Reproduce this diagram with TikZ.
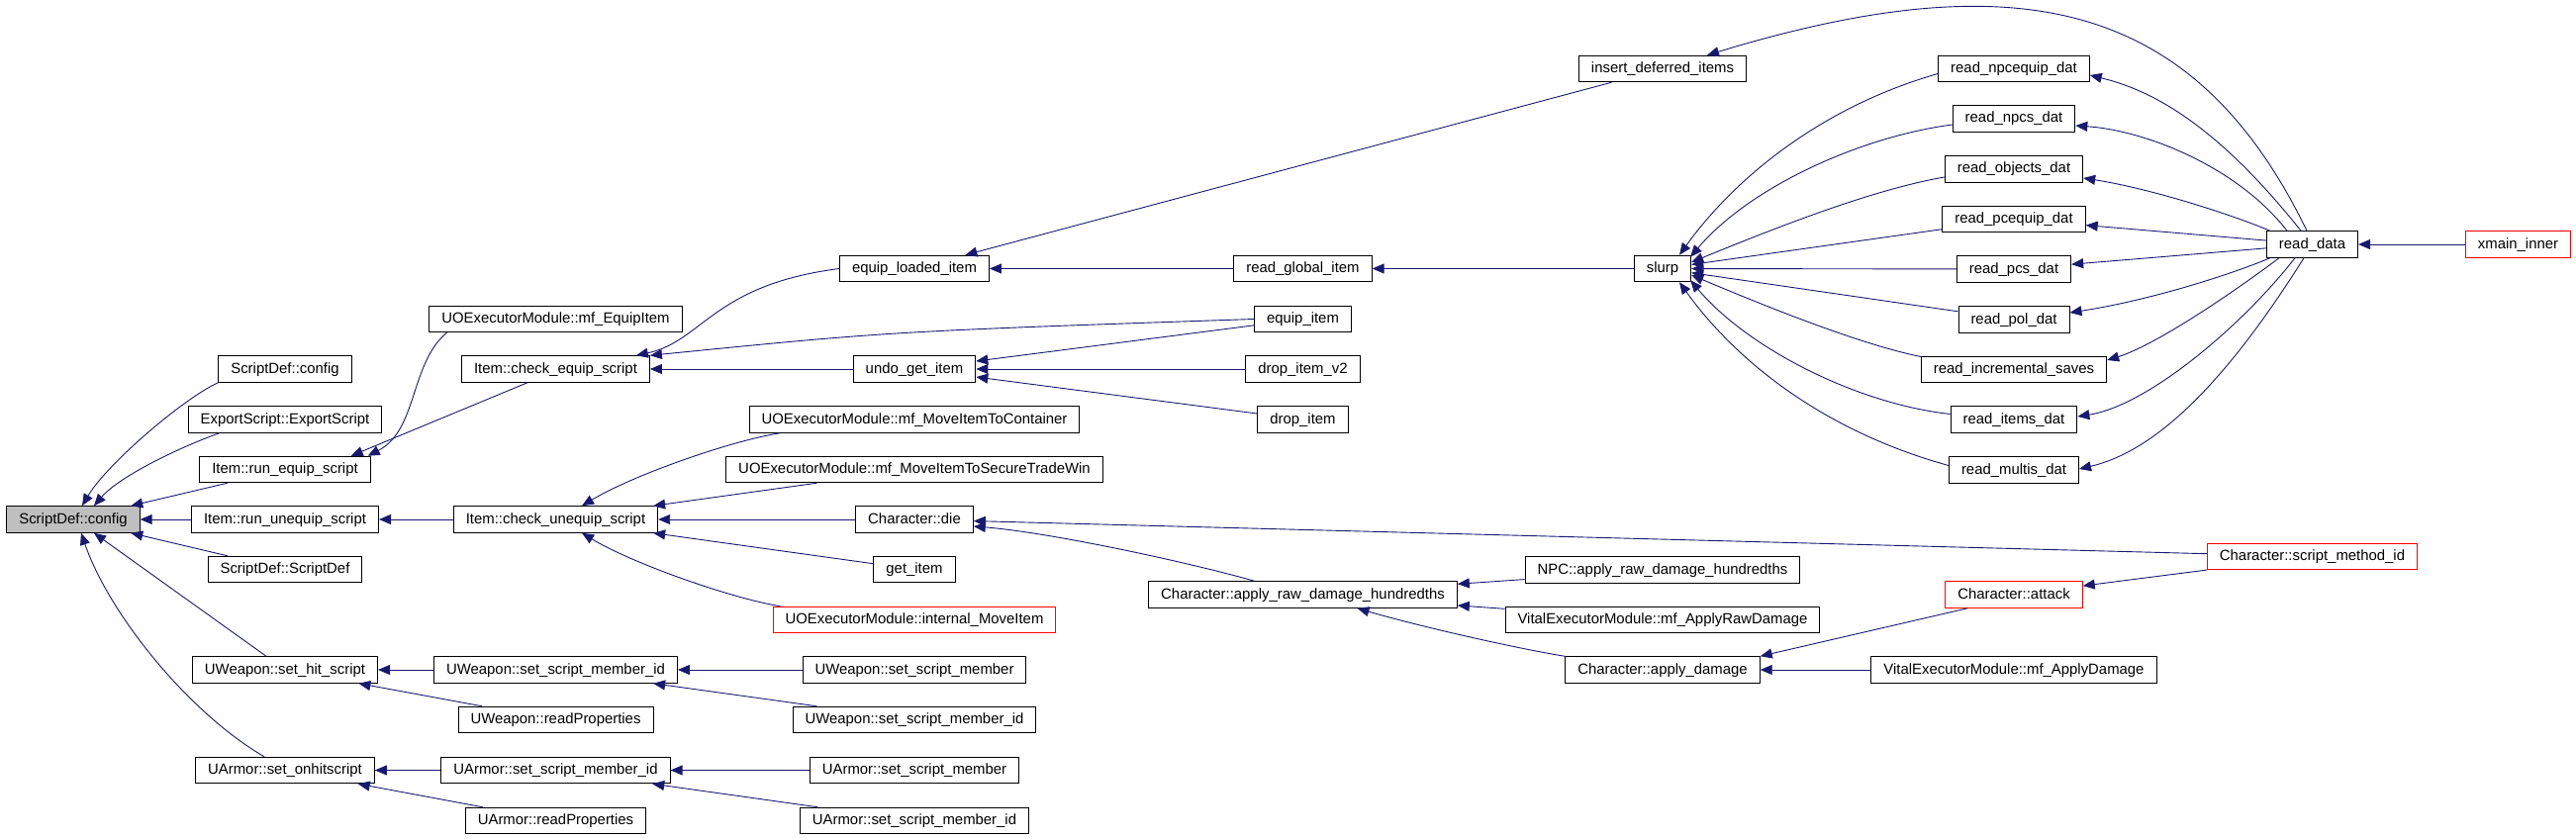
\documentclass[tikz,border=0pt]{standalone}
\usepackage{fontspec}
\setmainfont{Liberation Sans}
\usetikzlibrary{arrows.meta}
\definecolor{midnight}{HTML}{191970}
\definecolor{rootgray}{HTML}{BFBFBF}
\tikzset{
	fn/.style={draw, line width=1pt, font=\fontsize{14.9}{17}\selectfont, inner xsep=12.5pt, inner ysep=0pt, minimum height=26.5pt, text height=11pt, text depth=3pt},
	fnred/.style={fn, draw=red},
	fnroot/.style={fn, fill=rootgray},
	calls/.style={draw=midnight, line width=0.9pt, -{Triangle[length=12pt,width=10pt]}}
}
\begin{document}
\begin{tikzpicture}[x=1pt,y=1pt]
	\useasboundingbox (0,0) rectangle (2603,-848);
	\node[fnroot] (root) at (74,-525) {ScriptDef::config};
	\node[fn] (sdcfg) at (288,-373) {ScriptDef::config};
	\node[fn] (expscr) at (288,-424) {ExportScript::ExportScript};
	\node[fn] (runeq) at (288,-474.5) {Item::run\_equip\_script};
	\node[fn] (rununeq) at (288,-525) {Item::run\_unequip\_script};
	\node[fn] (sdctor) at (288,-575.5) {ScriptDef::ScriptDef};
	\node[fn] (wsethit) at (288,-677) {UWeapon::set\_hit\_script};
	\node[fn] (asethit) at (288,-778.5) {UArmor::set\_onhitscript};
	\node[fn] (mfequip) at (561.5,-322.5) {UOExecutorModule::mf\_EquipItem};
	\node[fn] (chkeq) at (561.5,-373) {Item::check\_equip\_script};
	\node[fn] (chkuneq) at (561.5,-525) {Item::check\_unequip\_script};
	\node[fn] (wsmid) at (561.5,-677) {UWeapon::set\_script\_member\_id};
	\node[fn] (wreadp) at (561.5,-727.5) {UWeapon::readProperties};
	\node[fn] (asmid) at (561.5,-778.5) {UArmor::set\_script\_member\_id};
	\node[fn] (areadp) at (561.5,-829.5) {UArmor::readProperties};
	\node[fn] (eqload) at (924,-271.5) {equip\_loaded\_item};
	\node[fn] (undoget) at (924,-373) {undo\_get\_item};
	\node[fn] (mvcont) at (924,-424) {UOExecutorModule::mf\_MoveItemToContainer};
	\node[fn] (mvtrade) at (924,-474.5) {UOExecutorModule::mf\_MoveItemToSecureTradeWin};
	\node[fn] (chdie) at (924,-525) {Character::die};
	\node[fn] (getitem) at (924,-575.5) {get\_item};
	\node[fnred] (intmove) at (924,-626.5) {UOExecutorModule::internal\_MoveItem};
	\node[fn] (wsm) at (924,-677) {UWeapon::set\_script\_member};
	\node[fn] (wsmid2) at (924,-727.5) {UWeapon::set\_script\_member\_id};
	\node[fn] (asm) at (924,-778.5) {UArmor::set\_script\_member};
	\node[fn] (asmid2) at (924,-829.5) {UArmor::set\_script\_member\_id};
	\node[fn] (rglob) at (1316.5,-271.5) {read\_global\_item};
	\node[fn] (eqitem) at (1316.5,-322.5) {equip\_item};
	\node[fn] (dropv2) at (1316.5,-373) {drop\_item\_v2};
	\node[fn] (drop) at (1316.5,-424) {drop\_item};
	\node[fn] (rawdmg) at (1316.5,-601) {Character::apply\_raw\_damage\_hundredths};
	\node[fn] (insdef) at (1680,-69.5) {insert\_deferred\_items};
	\node[fn] (slurp) at (1680,-271.5) {slurp};
	\node[fn] (npcraw) at (1680,-576) {NPC::apply\_raw\_damage\_hundredths};
	\node[fn] (vemraw) at (1680,-626.5) {VitalExecutorModule::mf\_ApplyRawDamage};
	\node[fn] (apdmg) at (1680,-677) {Character::apply\_damage};
	\node[fn] (rnpceq) at (2035,-69.5) {read\_npcequip\_dat};
	\node[fn] (rnpcs) at (2035,-120) {read\_npcs\_dat};
	\node[fn] (robj) at (2035,-171) {read\_objects\_dat};
	\node[fn] (rpceq) at (2035,-221.5) {read\_pcequip\_dat};
	\node[fn] (rpcs) at (2035,-272) {read\_pcs\_dat};
	\node[fn] (rpol) at (2035,-323) {read\_pol\_dat};
	\node[fn] (rinc) at (2035,-373.5) {read\_incremental\_saves};
	\node[fn] (ritems) at (2035,-424) {read\_items\_dat};
	\node[fn] (rmultis) at (2035,-475) {read\_multis\_dat};
	\node[fnred] (attack) at (2035,-601) {Character::attack};
	\node[fn] (vemdmg) at (2035,-677) {VitalExecutorModule::mf\_ApplyDamage};
	\node[fn] (rdata) at (2336.5,-247) {read\_data};
	\node[fnred] (smid) at (2336.5,-562.5) {Character::script\_method\_id};
	\node[fnred] (xmain) at (2544.5,-247) {xmain\_inner};

	\draw[calls] (sdcfg.south west) .. controls (185,-403) and (108,-469) .. ([xshift=9pt]root.north);
	\draw[calls] ([xshift=32pt]expscr.south west) .. controls (184,-451) and (121,-481) .. ([xshift=21pt]root.north);
	\draw[calls] (runeq) -- (root);
	\draw[calls] (rununeq) -- (root);
	\draw[calls] (sdctor) -- (root);
	\draw[calls] ([xshift=-19pt]wsethit.north) -- ([xshift=21pt]root.south);
	\draw[calls] ([xshift=-21pt]asethit.north) .. controls (190,-720) and (110,-620) .. ([xshift=8pt]root.south);

	\draw[calls] ([xshift=18pt]mfequip.south west) .. controls (414,-368) and (422,-435) .. ([xshift=-3pt]runeq.north east);
	\draw[calls] ([xshift=-28.5pt]chkeq.south) -- ([xshift=-20pt]runeq.north east);
	\draw[calls] (chkuneq) -- (rununeq);
	\draw[calls] (wsmid) -- (wsethit);
	\draw[calls] (wreadp) -- (wsethit);
	\draw[calls] (asmid) -- (asethit);
	\draw[calls] (areadp) -- (asethit);

	\draw[calls] (eqload.west) .. controls (720,-288) and (710,-345) .. ([xshift=-14pt]chkeq.north east);
	\draw[calls] (eqitem.west) .. controls (900,-335) .. (chkeq.north east);
	\draw[calls] (undoget) -- (chkeq);
	\draw[calls] ([xshift=-135.5pt]mvcont.south) .. controls (740,-445) and (640,-480) .. ([xshift=26.5pt]chkuneq.north);
	\draw[calls] (mvtrade) -- (chkuneq);
	\draw[calls] (chdie) -- (chkuneq);
	\draw[calls] (getitem) -- (chkuneq);
	\draw[calls] ([xshift=-135.5pt]intmove.north) .. controls (740,-605) and (640,-570) .. ([xshift=26.5pt]chkuneq.south);
	\draw[calls] (wsm) -- (wsmid);
	\draw[calls] (wsmid2) -- (wsmid);
	\draw[calls] (asm) -- (asmid);
	\draw[calls] (asmid2) -- (asmid);

	\draw[calls] (insdef) -- (eqload);
	\draw[calls] (rglob) -- (eqload);
	\draw[calls] (eqitem) -- (undoget);
	\draw[calls] (dropv2) -- (undoget);
	\draw[calls] (drop) -- (undoget);
	\draw[calls] (smid) -- (chdie);
	\draw[calls] ([xshift=-49pt]rawdmg.north) .. controls (1200,-568) and (1060,-538) .. ([yshift=-7pt]chdie.east);

	\draw[calls] (slurp) -- (rglob);
	\draw[calls] (npcraw) -- (rawdmg);
	\draw[calls] (vemraw) -- (rawdmg);
	\draw[calls] (apdmg.north west) .. controls (1530,-655) and (1430,-632) .. ([xshift=55pt]rawdmg.south);

	\draw[calls] ([yshift=-5pt]rnpceq.west) .. controls (1844,-107) and (1755,-177) .. ([xshift=17pt]slurp.north);
	\draw[calls] ([yshift=-6pt]rnpcs.west) .. controls (1875,-139) and (1765,-192) .. ([xshift=-1pt,yshift=-2pt]slurp.north east);
	\draw[calls] ([yshift=-8pt]robj.west) .. controls (1890,-192) and (1790,-232) .. ([yshift=6.5pt]slurp.east);
	\draw[calls] (rpceq) -- (slurp);
	\draw[calls] (rpcs) -- (slurp);
	\draw[calls] (rpol) -- (slurp);
	\draw[calls] ([yshift=13pt]rinc.west) .. controls (1880,-348) and (1790,-312) .. ([yshift=-6.5pt]slurp.east);
	\draw[calls] ([yshift=5.5pt]ritems.west) .. controls (1875,-408) and (1765,-351) .. ([xshift=-1pt,yshift=2pt]slurp.south east);
	\draw[calls] ([yshift=4.5pt]rmultis.west) .. controls (1844,-436) and (1755,-366) .. ([xshift=17pt]slurp.south);
	\draw[calls] ([xshift=23pt]attack.south west) -- (apdmg.north east);
	\draw[calls] (vemdmg) -- (apdmg);

	\draw[calls] ([xshift=-5.5pt]rdata.north) .. controls (2218,0) and (2040,40) .. ([xshift=45pt]insdef.north);
	\draw[calls] ([xshift=-11.5pt]rdata.north) .. controls (2235,-120) and (2169,-90) .. ([yshift=-6.5pt]rnpceq.east);
	\draw[calls] ([xshift=-25.5pt]rdata.north) .. controls (2262,-170) and (2170,-132) .. ([yshift=-7pt]rnpcs.east);
	\draw[calls] ([xshift=4pt]rdata.north west) .. controls (2250,-215) and (2170,-190) .. ([yshift=-9pt]robj.east);
	\draw[calls] (rdata) -- (rpceq);
	\draw[calls] (rdata) -- (rpcs);
	\draw[calls] ([xshift=4pt]rdata.south west) .. controls (2250,-279) and (2170,-304) .. ([yshift=7pt]rpol.east);
	\draw[calls] ([xshift=13pt]rdata.south west) .. controls (2248,-302) and (2175,-350) .. ([yshift=9.5pt]rinc.east);
	\draw[calls] ([xshift=-17.5pt]rdata.south) .. controls (2265,-330) and (2170,-410) .. ([yshift=3pt]ritems.east);
	\draw[calls] ([xshift=-8.5pt]rdata.south) .. controls (2248,-388) and (2178,-456) .. ([yshift=1pt]rmultis.east);
	\draw[calls] (smid) -- (attack);
	\draw[calls] (xmain) -- (rdata);
\end{tikzpicture}
\end{document}
